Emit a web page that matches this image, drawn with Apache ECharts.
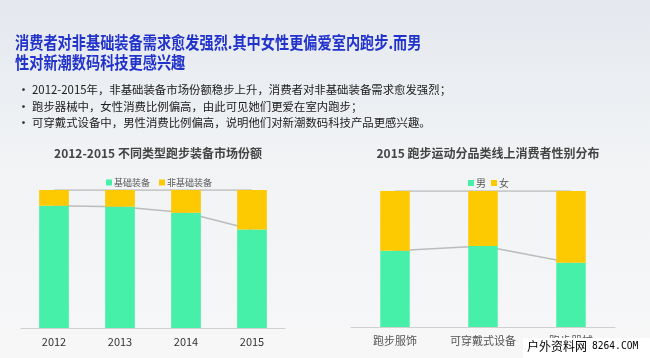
<!DOCTYPE html>
<html><head><meta charset="utf-8">
<script src="https://cdn.jsdelivr.net/npm/echarts@6/dist/echarts.min.js"></script>
<style>html,body{margin:0;padding:0;}#c{width:650px;height:358px;}</style>
</head><body><div id="c"></div>
<script>
const years = ['2012', '2013', '2014', '2015'];
const basicShare = [88.6, 87.9, 83.5, 71.4];
const nonBasicShare = [11.4, 12.1, 16.5, 28.6];
const categories = ['跑步服饰', '可穿戴式设备', '跑步器械'];
const maleShare = [56.1, 59.5, 47.3];
const femaleShare = [43.9, 40.5, 52.7];
const fullLeft = [100, 100, 100, 100];
const fullRight = [100, 100, 100];

const GREEN = '#47f0a8', YELLOW = '#fdc900', LINE = '#bcbcbc';
const CJK = '"Noto Sans CJK SC", "Noto Sans", sans-serif';

const chart = echarts.init(document.getElementById('c'));
chart.setOption({
  backgroundColor: new echarts.graphic.LinearGradient(0, 0, 0, 1, [
    {offset: 0, color: '#e4e8ee'}, {offset: 0.45, color: '#f1f3f5'}, {offset: 1, color: '#f7f7f8'}]),
  animation: false,
  textStyle: {fontFamily: CJK},
  title: [
    {text: '2012-2015 不同类型跑步装备市场份额', left: 153, top: 142, textAlign: 'center',
     textStyle: {fontSize: 12, fontWeight: 'bold', color: '#444', fontFamily: CJK}},
    {text: '2015 跑步运动分品类线上消费者性别分布', left: 483, top: 142, textAlign: 'center',
     textStyle: {fontSize: 12, fontWeight: 'bold', color: '#444', fontFamily: CJK}}
  ],
  legend: [
    {data: ['基础装备', '非基础装备'], left: 101, top: 173, icon: 'rect', itemWidth: 6, itemHeight: 6, itemGap: 9,
     textStyle: {fontSize: 9, color: '#555', padding: [0, 0, 0, -3]}},
    {data: ['男', '女'], left: 463, top: 173, icon: 'rect', itemWidth: 6, itemHeight: 6, itemGap: 5,
     textStyle: {fontSize: 10, color: '#555', padding: [0, 0, 0, -3]}}
  ],
  grid: [
    {left: 21, right: 365, top: 190, bottom: 30},
    {left: 351, right: 35, top: 191, bottom: 31}
  ],
  xAxis: [
    {type: 'category', gridIndex: 0, data: years, axisTick: {show: false},
     axisLine: {lineStyle: {color: '#d0d0d0'}}, axisLabel: {color: '#333', fontSize: 11, margin: 8}},
    {type: 'category', gridIndex: 1, data: categories, axisTick: {show: false},
     axisLine: {lineStyle: {color: '#d0d0d0'}}, axisLabel: {color: '#555', fontSize: 11, margin: 8}}
  ],
  yAxis: [
    {type: 'value', gridIndex: 0, min: 0, max: 100, show: false},
    {type: 'value', gridIndex: 1, min: 0, max: 100, show: false}
  ],
  series: [
    {name: '基础装备', type: 'bar', stack: 'a', xAxisIndex: 0, yAxisIndex: 0, barWidth: '45%', z: 3,
     itemStyle: {color: GREEN}, data: basicShare},
    {name: '非基础装备', type: 'bar', stack: 'a', xAxisIndex: 0, yAxisIndex: 0, barWidth: '45%', z: 3,
     itemStyle: {color: YELLOW}, data: nonBasicShare},
    {type: 'line', xAxisIndex: 0, yAxisIndex: 0, z: 1, symbol: 'none', lineStyle: {color: LINE, width: 1.5}, data: basicShare},
    {type: 'line', xAxisIndex: 0, yAxisIndex: 0, z: 1, symbol: 'none', lineStyle: {color: LINE, width: 1.5}, data: fullLeft},
    {name: '男', type: 'bar', stack: 'b', xAxisIndex: 1, yAxisIndex: 1, barWidth: '33.5%', z: 3,
     itemStyle: {color: GREEN}, data: maleShare},
    {name: '女', type: 'bar', stack: 'b', xAxisIndex: 1, yAxisIndex: 1, barWidth: '33.5%', z: 3,
     itemStyle: {color: YELLOW}, data: femaleShare},
    {type: 'line', xAxisIndex: 1, yAxisIndex: 1, z: 1, symbol: 'none', lineStyle: {color: LINE, width: 1.5}, data: maleShare},
    {type: 'line', xAxisIndex: 1, yAxisIndex: 1, z: 1, symbol: 'none', lineStyle: {color: LINE, width: 1.5}, data: fullRight}
  ],
  graphic: [
    {type: 'text', x: 15, y: 43, scaleY: 1.2, originX: 0, originY: 0, style: {text: '消费者对非基础装备需求愈发强烈.其中女性更偏爱室内跑步.而男',
      fill: '#2233cc', font: 'bold 14.2px ' + CJK, verticalAlign: 'middle'}},
    {type: 'text', x: 15, y: 63, scaleY: 1.2, originX: 0, originY: 0, style: {text: '性对新潮数码科技更感兴趣',
      fill: '#2233cc', font: 'bold 14.2px ' + CJK, verticalAlign: 'middle'}},
    {type: 'text', x: 18, y: 90, style: {text: '•', fill: '#333', font: 'bold 11px ' + CJK, verticalAlign: 'middle'}},
    {type: 'text', x: 18, y: 106.5, style: {text: '•', fill: '#333', font: 'bold 11px ' + CJK, verticalAlign: 'middle'}},
    {type: 'text', x: 18, y: 123, style: {text: '•', fill: '#333', font: 'bold 11px ' + CJK, verticalAlign: 'middle'}},
    {type: 'text', x: 32, y: 90, style: {text: '2012-2015年，非基础装备市场份额稳步上升，消费者对非基础装备需求愈发强烈；',
      fill: '#1a1a1a', font: '11.4px ' + CJK, verticalAlign: 'middle'}},
    {type: 'text', x: 32, y: 106.5, style: {text: '跑步器械中，女性消费比例偏高，由此可见她们更爱在室内跑步；',
      fill: '#1a1a1a', font: '11.4px ' + CJK, verticalAlign: 'middle'}},
    {type: 'text', x: 32, y: 123, style: {text: '可穿戴式设备中，男性消费比例偏高，说明他们对新潮数码科技产品更感兴趣。',
      fill: '#1a1a1a', font: '11.4px ' + CJK, verticalAlign: 'middle'}},
    {type: 'rect', x: 523, y: 338, z: 100, shape: {width: 127, height: 20}, style: {fill: '#ffffff'}},
    {type: 'text', x: 527, y: 346, z: 101, style: {text: '户外资料网', fill: '#000', font: '12px ' + CJK, verticalAlign: 'middle'}},
    {type: 'text', x: 592, y: 346, z: 101, style: {text: '8264.COM', fill: '#000', font: '9.6px "DejaVu Sans Mono", monospace', verticalAlign: 'middle'}}
  ]
});
</script></body></html>
